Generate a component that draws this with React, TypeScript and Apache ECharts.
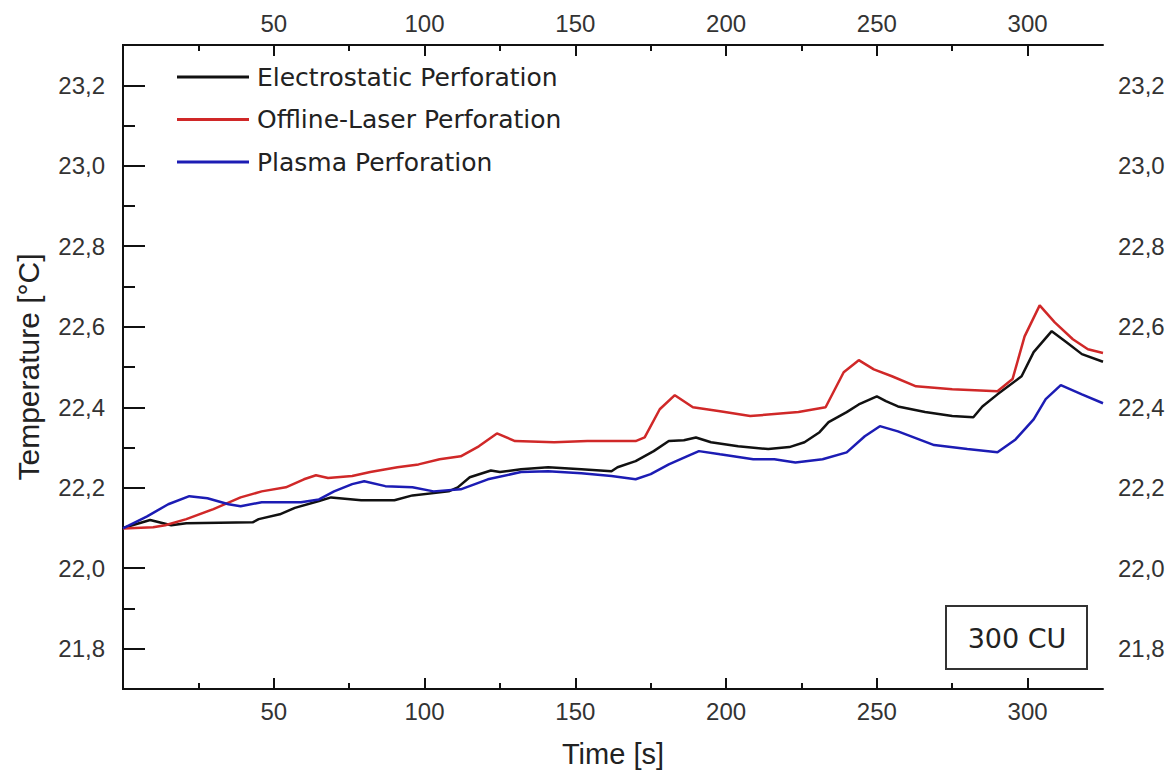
import React, { useEffect, useRef } from "react";
import * as echarts from "echarts";

const seriesNames = ["Electrostatic Perforation", "Offline-Laser Perforation", "Plasma Perforation"];
const seriesColors = ["#111111", "#d02828", "#1c1cb4"];

const electroTime = [0, 9, 16, 21, 43, 45, 52, 57, 65, 69, 79, 90, 96, 108, 111, 115, 122, 125, 132, 141, 152, 162, 164, 170, 176, 181, 186, 190, 195, 204, 214, 221, 226, 231, 234, 240, 244, 250, 253, 257, 266, 275, 282, 285, 290, 298, 302, 308, 313, 318, 325];
const electroTemp = [22.1, 22.12, 22.107, 22.112, 22.114, 22.122, 22.134, 22.15, 22.167, 22.176, 22.169, 22.169, 22.181, 22.191, 22.201, 22.226, 22.243, 22.239, 22.246, 22.251, 22.246, 22.241, 22.251, 22.266, 22.291, 22.316, 22.318, 22.325, 22.313, 22.303, 22.296, 22.301, 22.313, 22.338, 22.363, 22.388, 22.407, 22.427, 22.415, 22.402, 22.388, 22.378, 22.375, 22.402, 22.432, 22.477, 22.537, 22.589, 22.561, 22.532, 22.513];

const laserTime = [0, 10, 14, 21, 30, 39, 46, 54, 60, 64, 68, 76, 82, 91, 98, 105, 112, 118, 124, 130, 143, 154, 170, 173, 178, 183, 189, 198, 208, 216, 224, 233, 239, 244, 249, 255, 263, 275, 290, 295, 299, 304, 309, 315, 320, 325];
const laserTemp = [22.099, 22.102, 22.107, 22.122, 22.147, 22.176, 22.191, 22.201, 22.221, 22.231, 22.224, 22.229, 22.239, 22.251, 22.258, 22.271, 22.278, 22.303, 22.335, 22.316, 22.313, 22.316, 22.316, 22.325, 22.395, 22.43, 22.4, 22.39, 22.378, 22.383, 22.388, 22.4, 22.487, 22.517, 22.494, 22.477, 22.452, 22.445, 22.44, 22.47, 22.576, 22.653, 22.611, 22.569, 22.544, 22.535];

const plasmaTime = [0, 8, 15, 22, 28, 35, 39, 46, 59, 65, 70, 76, 80, 87, 96, 103, 112, 121, 132, 141, 152, 162, 170, 175, 181, 187, 191, 198, 209, 216, 223, 232, 240, 246, 251, 257, 269, 280, 290, 296, 302, 306, 311, 318, 325];
const plasmaTemp = [22.099, 22.129, 22.159, 22.179, 22.174, 22.159, 22.154, 22.164, 22.164, 22.171, 22.191, 22.209, 22.216, 22.204, 22.201, 22.191, 22.196, 22.221, 22.239, 22.241, 22.236, 22.229, 22.221, 22.234, 22.258, 22.278, 22.291, 22.283, 22.271, 22.271, 22.263, 22.271, 22.288, 22.328, 22.353, 22.34, 22.306, 22.296, 22.288, 22.32, 22.37, 22.42, 22.455, 22.432, 22.41];

const xMajorTicks = [50, 100, 150, 200, 250, 300];
const xMinorTicks = [25, 75, 125, 175, 225, 275];
const yMajorTicks = [21.8, 22.0, 22.2, 22.4, 22.6, 22.8, 23.0, 23.2];
const yMinorTicks = [21.9, 22.1, 22.3, 22.5, 22.7, 22.9, 23.1];

const xMin = 0, xMax = 325, yMin = 21.7, yMax = 23.3;
const boxLabel = "300 CU";
const xTitle = "Time [s]";
const yTitle = "Temperature [°C]";

const FONT = "Liberation Sans, Arial, sans-serif";
const WIDE = "DejaVu Sans, sans-serif";

function pairs(t: number[], v: number[]) {
  return t.map((x, i) => [x, v[i]]);
}

export default function App() {
  const ref = useRef<HTMLDivElement>(null);
  useEffect(() => {
    if (!ref.current) return;
    const chart = echarts.init(ref.current, null, { renderer: "svg" });
    const gridPos = { left: 123, right: 65, top: 45, bottom: 89 };
    const lineCol = "#111";
    const labelStyle = { color: "#333", fontSize: 24, fontFamily: FONT };
    const fmt = (v: number) => v.toFixed(1).replace(".", ",");
    const hidden = { axisLine: { show: false }, splitLine: { show: false }, axisLabel: { show: false } };

    const labelX = (position: string, idx: number) => ({
      type: "value", gridIndex: 0, position, min: xMin, max: xMax,
      axisLine: { show: true, lineStyle: { color: lineCol, width: 2 } },
      splitLine: { show: false },
      axisTick: { show: false },
      axisLabel: { show: true, customValues: xMajorTicks, margin: 10, ...labelStyle, formatter: (v: number) => String(v) },
      ...(idx === 0 ? { name: xTitle, nameLocation: "middle", nameGap: 50, nameTextStyle: { fontSize: 29, color: "#222", fontFamily: FONT } } : {}),
    });
    const tickX = (position: string, grid: number, vals: number[], len: number) => ({
      type: "value", gridIndex: grid, position, min: xMin, max: xMax, offset: -len, ...hidden,
      axisTick: { show: true, inside: false, length: len, customValues: vals, lineStyle: { color: lineCol, width: 2 } },
    });
    const labelY = (position: string, idx: number) => ({
      type: "value", gridIndex: 0, position, min: yMin, max: yMax,
      axisLine: { show: true, lineStyle: { color: lineCol, width: 2 } },
      splitLine: { show: false },
      axisTick: { show: false },
      axisLabel: { show: true, customValues: yMajorTicks, margin: idx === 0 ? 18 : 15, ...labelStyle, formatter: fmt },
      ...(idx === 0 ? { name: yTitle, nameLocation: "middle", nameGap: 80, nameTextStyle: { fontSize: 30, color: "#222", fontFamily: FONT } } : {}),
    });
    const tickY = (position: string, grid: number, vals: number[], len: number) => ({
      type: "value", gridIndex: grid, position, min: yMin, max: yMax, offset: -len, ...hidden,
      axisTick: { show: true, inside: false, length: len, customValues: vals, lineStyle: { color: lineCol, width: 2 } },
    });

    const datasets = [pairs(electroTime, electroTemp), pairs(laserTime, laserTemp), pairs(plasmaTime, plasmaTemp)];
    chart.setOption({
      animation: false,
      backgroundColor: "#ffffff",
      grid: [
        { ...gridPos, show: false },
        { ...gridPos, show: false },
        { ...gridPos, show: false },
      ],
      xAxis: [
        labelX("bottom", 0), labelX("top", 1),
        tickX("bottom", 1, xMajorTicks, 11), tickX("top", 1, xMajorTicks, 11),
        tickX("bottom", 2, xMinorTicks, 6), tickX("top", 2, xMinorTicks, 6),
      ],
      yAxis: [
        labelY("left", 0), labelY("right", 1),
        tickY("left", 1, yMajorTicks, 11), tickY("right", 1, yMajorTicks, 11),
        tickY("left", 2, yMinorTicks, 6), tickY("right", 2, yMinorTicks, 6),
      ],
      legend: {
        show: true,
        left: 172,
        top: 59,
        orient: "vertical",
        icon: "rect",
        itemWidth: 72,
        itemHeight: 3,
        itemGap: 16.5,
        data: seriesNames,
        textStyle: { fontSize: 25, color: "#222", fontFamily: WIDE, lineHeight: 26, padding: [0, 0, 0, 3] },
      },
      series: seriesNames.map((name, i) => ({
        name,
        type: "line",
        xAxisIndex: 0,
        yAxisIndex: 0,
        data: datasets[i],
        symbol: "none",
        showSymbol: false,
        smooth: false,
        color: seriesColors[i],
        lineStyle: { color: seriesColors[i], width: 2.5 },
        z: 3 + i,
      })),
      graphic: [
        {
          type: "rect",
          shape: { x: 946, y: 606, width: 141, height: 63 },
          style: { fill: "#fff", stroke: "#333", lineWidth: 2 },
          z: 10,
        },
        {
          type: "text",
          x: 1017,
          y: 638,
          style: { text: boxLabel, fontSize: 27, fill: "#222", fontFamily: WIDE, textAlign: "center", textVerticalAlign: "middle" },
          z: 11,
        },
      ],
    });
    return () => chart.dispose();
  }, []);
  return <div ref={ref} style={{ position: "fixed", left: 0, top: 0, width: 1168, height: 778 }} />;
}
